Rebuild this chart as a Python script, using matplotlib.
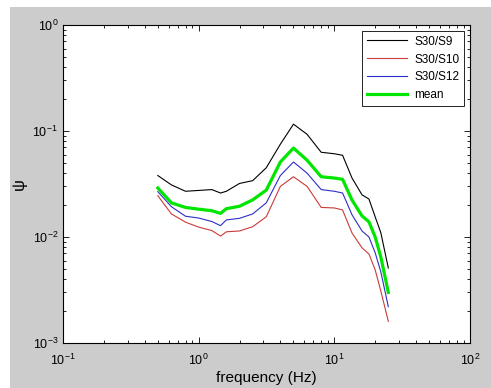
import matplotlib
matplotlib.use("Agg")
import matplotlib.pyplot as plt
from matplotlib.patches import Rectangle
from matplotlib.ticker import LogLocator, NullFormatter

plt.rcParams["font.family"] = ["Liberation Sans", "DejaVu Sans"]

# frequency axis (Hz)
freq = [0.5, 0.63, 0.8, 1.0, 1.25, 1.45, 1.6, 2.0, 2.5, 3.15, 4.0, 5.0,
        6.3, 8.0, 10.0, 11.5, 13.5, 16.0, 18.0, 20.0, 22.0, 25.0]

# psi ratios
psi_s9 = [0.038, 0.031, 0.027, 0.0275, 0.028, 0.026, 0.027, 0.032, 0.034, 0.045, 0.075, 0.116,
          0.093, 0.063, 0.061, 0.059, 0.036, 0.025, 0.0228, 0.0155, 0.011, 0.0051]
psi_s10 = [0.0245, 0.0165, 0.0138, 0.0124, 0.0115, 0.0102, 0.0112, 0.0114, 0.0125, 0.0155, 0.030, 0.037,
           0.030, 0.019, 0.0188, 0.018, 0.0109, 0.0079, 0.0069, 0.0049, 0.0031, 0.0016]
psi_s12 = [0.0268, 0.0193, 0.0157, 0.0151, 0.014, 0.0128, 0.0145, 0.015, 0.0165, 0.021, 0.038, 0.051,
           0.040, 0.028, 0.027, 0.026, 0.0162, 0.0114, 0.010, 0.0071, 0.0047, 0.0022]
psi_mean = [0.029, 0.021, 0.019, 0.0183, 0.0177, 0.0167, 0.0185, 0.0195, 0.0224, 0.0277, 0.051, 0.069,
            0.053, 0.037, 0.036, 0.035, 0.0223, 0.0158, 0.0139, 0.0100, 0.0065, 0.0030]

labels = ["S30/S9", "S30/S10", "S30/S12", "mean"]


def main():
    fig = plt.figure(figsize=(4.91, 3.88), dpi=100, facecolor="white")
    # grey figure background (MATLAB style), white strip on left/top
    fig.patches.append(Rectangle((10 / 491, 0), 481 / 491, 381 / 388,
                                 transform=fig.transFigure, facecolor="#cccccc",
                                 edgecolor="none", zorder=-1))

    ax = fig.add_axes([63 / 491, 1 - 343 / 388, 407 / 491, 318 / 388])
    ax.set_facecolor("white")

    ax.plot(freq, psi_s9, color="black", linewidth=0.8, label=labels[0])
    ax.plot(freq, psi_s10, color="#cc3a3a", linewidth=0.8, label=labels[1])
    ax.plot(freq, psi_s12, color="#2d2dc8", linewidth=0.8, label=labels[2])
    ax.plot(freq, psi_mean, color="#00e600", linewidth=2.3, label=labels[3])

    ax.set_xscale("log")
    ax.set_yscale("log")
    ax.set_xlim(0.1, 100)
    ax.set_ylim(1e-3, 1)

    ax.xaxis.set_major_locator(LogLocator(base=10, numticks=10))
    ax.yaxis.set_major_locator(LogLocator(base=10, numticks=10))
    ax.xaxis.set_minor_locator(LogLocator(base=10, subs=range(2, 10), numticks=20))
    ax.yaxis.set_minor_locator(LogLocator(base=10, subs=range(2, 10), numticks=20))
    ax.xaxis.set_minor_formatter(NullFormatter())
    ax.yaxis.set_minor_formatter(NullFormatter())

    ax.tick_params(which="both", direction="in", top=True, right=True,
                   labelsize=9, colors="black", width=0.6)
    ax.tick_params(which="major", length=4)
    ax.tick_params(which="minor", length=2.5)
    ax.tick_params(axis="x", pad=7)
    for s in ax.spines.values():
        s.set_linewidth(0.8)

    ax.set_xlabel("frequency (Hz)", fontsize=11, labelpad=2)
    ax.set_ylabel("\u03c8", fontsize=12, labelpad=4)

    leg = ax.legend(loc="upper right", fontsize=8.5, handlelength=3.4,
                    fancybox=False, framealpha=1, edgecolor="black",
                    borderaxespad=0.5, labelspacing=0.5, handletextpad=0.6)
    leg.get_frame().set_linewidth(0.6)

    fig.savefig("out.png", dpi=100, facecolor=fig.get_facecolor())


if __name__ == "__main__":
    main()
